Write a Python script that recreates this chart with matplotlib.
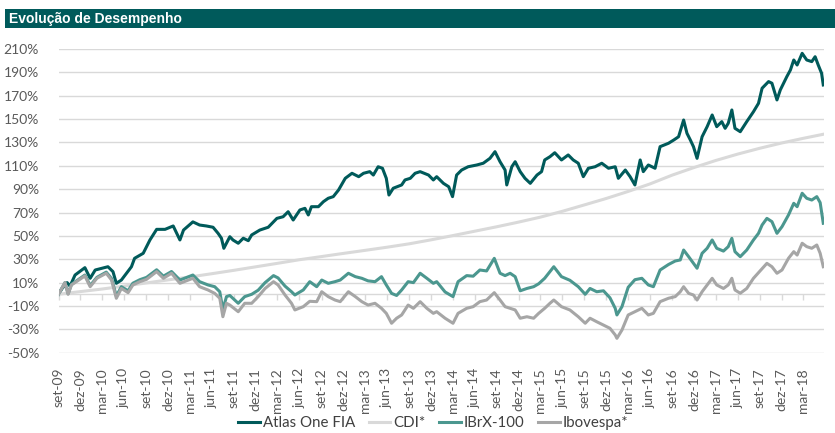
import matplotlib
matplotlib.use('Agg')
import matplotlib.pyplot as plt
from matplotlib.patches import Rectangle
import pandas as pd

# ---------------- data (cumulative return, %) ----------------
atlas_dates = [
    '2009-09-01', '2009-09-16', '2009-10-07', '2009-10-19', '2009-11-09', '2009-12-20',
    '2010-01-11', '2010-02-01', '2010-03-26', '2010-04-16', '2010-04-30', '2010-05-21',
    '2010-07-02', '2010-07-15', '2010-08-20', '2010-09-17', '2010-10-15', '2010-11-19',
    '2010-12-23', '2011-01-20', '2011-02-04', '2011-03-15', '2011-04-12', '2011-05-10',
    '2011-06-07', '2011-06-28', '2011-07-12', '2011-07-22', '2011-08-16', '2011-08-29',
    '2011-09-20', '2011-10-11', '2011-11-01', '2011-11-15', '2011-12-19', '2012-01-23',
    '2012-02-28', '2012-03-25', '2012-04-15', '2012-05-06', '2012-06-03', '2012-06-24',
    '2012-07-08', '2012-07-21', '2012-08-19', '2012-09-09', '2012-09-29', '2012-10-20',
    '2012-11-11', '2012-12-09', '2013-01-06', '2013-02-03', '2013-02-23', '2013-03-21',
    '2013-04-05', '2013-04-25', '2013-05-13', '2013-05-29', '2013-06-09', '2013-06-27',
    '2013-08-01', '2013-08-15', '2013-09-06', '2013-09-26', '2013-10-17', '2013-11-21',
    '2013-12-11', '2013-12-25', '2014-01-22', '2014-02-13', '2014-03-01', '2014-03-18',
    '2014-04-08', '2014-05-05', '2014-06-10', '2014-07-07', '2014-08-04', '2014-08-25',
    '2014-09-15', '2014-10-06', '2014-10-13', '2014-11-03', '2014-11-17', '2014-12-08',
    '2014-12-28', '2015-01-19', '2015-02-16', '2015-03-07', '2015-03-20', '2015-04-11',
    '2015-05-01', '2015-05-29', '2015-06-26', '2015-07-17', '2015-08-07', '2015-08-28',
    '2015-09-18', '2015-10-16', '2015-11-13', '2015-12-11', '2016-01-08', '2016-01-21',
    '2016-02-19', '2016-03-10', '2016-03-30', '2016-04-21', '2016-05-04', '2016-05-25',
    '2016-06-22', '2016-07-13', '2016-08-17', '2016-09-08', '2016-09-28', '2016-10-19',
    '2016-11-02', '2016-11-16', '2016-11-29', '2016-12-14', '2017-01-04', '2017-01-25',
    '2017-02-15', '2017-03-06', '2017-03-27', '2017-04-10', '2017-04-23', '2017-05-08',
    '2017-05-21', '2017-06-12', '2017-07-09', '2017-08-06', '2017-08-27', '2017-09-11',
    '2017-10-08', '2017-10-22', '2017-11-12', '2017-11-26', '2017-12-23', '2018-01-07',
    '2018-01-21', '2018-02-04', '2018-02-25', '2018-03-16', '2018-04-06', '2018-04-20',
    '2018-05-03', '2018-05-17', '2018-05-24']
atlas_vals = [
    0, 5, 10, 7, 16.5, 22.8,
    13.7, 20.8, 23.6, 19.4, 9.4, 12.2,
    23.6, 30.8, 35.1, 46.5, 55.6, 55.6,
    58.5, 46.5, 55, 62, 59.3, 58.5,
    57.4, 52.2, 48, 39.4, 49.3, 46.5,
    43.7, 48, 45.9, 50.8, 55, 57.4,
    65, 66.4, 70.7, 63.6, 72.2, 73.6,
    67.9, 75, 75, 79.3, 82.2, 83.6,
    89.3, 99.3, 103.6, 100.7, 103.6, 105,
    102.1, 109.2, 107.9, 99.3, 85, 90.8,
    93.6, 97.9, 99.3, 103.6, 105, 102.1,
    97.9, 100.7, 95, 92.1, 83.6, 102.1,
    106.4, 109.2, 110.7, 112.2, 116.4, 122.1,
    113.5, 106.4, 93.6, 109.2, 113.5, 105,
    99.3, 95, 102.1, 105, 115, 117.8,
    121.2, 115, 119.3, 115, 112.2, 100.7,
    107.9, 109.2, 112.2, 107.9, 109.2, 99.3,
    106.4, 100.7, 93.6, 115, 105, 110.7,
    107.9, 126.4, 129.3, 132.1, 134.9, 149.2,
    137.8, 132.1, 126.4, 116.4, 134.9, 143.5,
    153.5, 143.5, 147.8, 142.1, 146.4, 157.8,
    142.1, 139.2, 147.8, 156.3, 163.5, 176.4,
    182.1, 180.7, 166.4, 175, 186.3, 192,
    200.6, 196.3, 206.3, 200.6, 199.2, 203.4,
    196.3, 189.2, 179.2]

index_dates = [
    '2009-09-01', '2009-09-28', '2009-10-11', '2009-10-25', '2009-11-29', '2009-12-20',
    '2010-01-11', '2010-02-08', '2010-03-19', '2010-04-10', '2010-04-30', '2010-05-21',
    '2010-06-18', '2010-07-08', '2010-08-06', '2010-09-03', '2010-10-15', '2010-11-12',
    '2010-12-16', '2011-01-20', '2011-03-15', '2011-04-12', '2011-05-17', '2011-06-14',
    '2011-07-05', '2011-07-18', '2011-08-02', '2011-08-16', '2011-09-20', '2011-10-17',
    '2011-11-15', '2011-12-12', '2012-01-10', '2012-02-14', '2012-03-04', '2012-04-02',
    '2012-04-29', '2012-05-13', '2012-06-17', '2012-07-14', '2012-08-12', '2012-09-02',
    '2012-09-29', '2012-10-27', '2012-11-18', '2012-12-22', '2013-01-20', '2013-02-16',
    '2013-03-14', '2013-04-12', '2013-05-09', '2013-05-29', '2013-06-20', '2013-07-11',
    '2013-08-01', '2013-08-28', '2013-09-19', '2013-10-17', '2013-11-14', '2013-12-11',
    '2013-12-25', '2014-01-29', '2014-03-03', '2014-03-24', '2014-04-29', '2014-05-26',
    '2014-06-23', '2014-07-21', '2014-08-22', '2014-09-15', '2014-10-06', '2014-10-27',
    '2014-11-17', '2014-12-08', '2015-01-05', '2015-02-02', '2015-02-23', '2015-03-20',
    '2015-04-11', '2015-04-27', '2015-05-29', '2015-07-03', '2015-08-07', '2015-09-05',
    '2015-09-25', '2015-10-23', '2015-11-20', '2015-12-17', '2016-01-08', '2016-01-15',
    '2016-02-05', '2016-03-02', '2016-03-30', '2016-04-28', '2016-05-25', '2016-06-15',
    '2016-07-13', '2016-08-17', '2016-09-14', '2016-10-05', '2016-10-19', '2016-11-09',
    '2016-11-29', '2016-12-14', '2017-01-04', '2017-01-25', '2017-02-15', '2017-03-06',
    '2017-04-03', '2017-04-23', '2017-05-08', '2017-05-21', '2017-06-12', '2017-07-09',
    '2017-08-06', '2017-08-27', '2017-09-11', '2017-10-01', '2017-10-22', '2017-11-12',
    '2017-12-03', '2017-12-30', '2018-01-21', '2018-02-04', '2018-02-25', '2018-03-16',
    '2018-04-06', '2018-04-27', '2018-05-11', '2018-05-24']
ibov_vals = [
    0, 10, 0, 8, 12.8, 15.7,
    6.5, 13.7, 18, 12.2, -3.4, 5,
    1.4, 8, 10.8, 12.8, 19.4, 13.7,
    18, 9.4, 13.7, 6.5, 3.7, 0.8,
    -3.4, -19.2, -7.7, -9.2, -14.9, -7.7,
    -7.7, -2, 5, 10.8, 8, -0.6,
    -7.7, -13.4, -10.6, -6, -6.3, 2.2,
    -2, -4.9, -6.3, 2.2, -2, -6.3,
    -9.2, -7.7, -12, -16.3, -24.8, -20.5,
    -17.7, -9.2, -12, -6.3, -12, -16.3,
    -14.9, -20.5, -24.8, -16.3, -12, -10.6,
    -6.3, -4.9, 1.4, -4.9, -10.6, -12,
    -13.4, -20.5, -19.2, -20.5, -16.3, -12,
    -7.7, -4.9, -10.6, -13.4, -19.2, -24.8,
    -20.5, -23.5, -26.3, -29.1, -34.8, -37.7,
    -30.6, -17.7, -14.9, -12, -17.7, -16.3,
    -6.3, -3.4, -2, 2.2, 6.5, 0.8,
    -0.6, -4.9, 2.2, 8, 13.7, 8,
    5, 8, 13.7, 3.7, 0.9, 5,
    13.7, 18.5, 22, 26.5, 23.6, 18,
    20.8, 30.8, 36.5, 33.6, 43.7, 40.8,
    39.4, 42.2, 35.1, 23.6]
ibrx_vals = [
    0, 10, 0.5, 8.5, 13.5, 16.5,
    7.5, 14.5, 19, 13.5, -1.5, 6.5,
    3, 9.5, 12.5, 14.5, 21, 15.5,
    19.5, 12.2, 16.5, 10.8, 8, 6.5,
    2.2, -13, -2, -1, -7.7, -2,
    0, 3.5, 10, 16, 14, 7,
    2.2, -0.6, 3.7, 10.8, 6.5, 12.2,
    9.4, 10.8, 12.2, 18, 15.1, 13.7,
    11.5, 10.8, 15.1, 8, 0.8, -1,
    3.7, 10.8, 10, 18, 13.7, 9.4,
    10.8, 2, -2, 10.8, 16, 15.5,
    20.8, 20, 30.8, 18, 16, 18,
    15.1, 3, 5, 6.5, 9, 13.7,
    19.4, 23.6, 15.1, 12, 6.5, 0,
    5, 2.2, 3, -3, -12, -17.7,
    -10.6, 6, 12.5, 13.7, 8, 6.5,
    20.8, 25.5, 28.5, 29.4, 37.9, 32.2,
    26.5, 22.3, 35.1, 39.4, 46.5, 39.4,
    37, 40.8, 47.9, 36.5, 32.2, 37.9,
    46.5, 52.2, 59.3, 65, 62.2, 52.2,
    57.9, 67.9, 77.9, 75, 86.5, 82.2,
    80.7, 83.6, 78.5, 60.8]

cdi_dates = [
    '2009-09-01', '2009-12-01', '2010-03-01', '2010-06-01', '2010-09-01', '2010-12-01',
    '2011-03-01', '2011-06-01', '2011-09-01', '2011-12-01', '2012-03-01', '2012-06-01',
    '2012-09-01', '2012-12-01', '2013-03-01', '2013-06-01', '2013-09-01', '2013-12-01',
    '2014-03-01', '2014-06-01', '2014-09-01', '2014-12-01', '2015-03-01', '2015-06-01',
    '2015-09-01', '2015-12-01', '2016-03-01', '2016-06-01', '2016-09-01', '2016-12-01',
    '2017-03-01', '2017-06-01', '2017-09-01', '2017-12-01', '2018-03-01', '2018-05-24']
cdi_vals = [
    0, 2.3, 4.5, 7.0, 9.7, 12.3,
    14.8, 17.6, 20.5, 23.5, 26.5, 29.6,
    32.3, 35, 37.6, 40.3, 43.2, 46.6,
    50.2, 54, 57.8, 61.8, 66, 71,
    76.5, 82, 88, 94.5, 102, 108.5,
    114.5, 120, 125, 129.5, 133.5, 137]

tick_labels = ['set-09', 'dez-09', 'mar-10', 'jun-10', 'set-10', 'dez-10', 'mar-11',
               'jun-11', 'set-11', 'dez-11', 'mar-12', 'jun-12', 'set-12', 'dez-12',
               'mar-13', 'jun-13', 'set-13', 'dez-13', 'mar-14', 'jun-14', 'set-14',
               'dez-14', 'mar-15', 'jun-15', 'set-15', 'dez-15', 'mar-16', 'jun-16',
               'set-16', 'dez-16', 'mar-17', 'jun-17', 'set-17', 'dez-17', 'mar-18']
series_names = ['Atlas One FIA', 'CDI*', 'IBrX-100', 'Ibovespa*']
title = 'Evolução de Desempenho'

# ---------------- styling ----------------
plt.rcParams['font.family'] = ['Lato', 'DejaVu Sans']
colors = ['#005a5a', '#d9d9d9', '#4b978f', '#a6a6a6']
txt_gray = '#595959'
grid_col = '#d9d9d9'

fig = plt.figure(figsize=(8.35, 4.33), dpi=100)
W, H = 835, 433
ax = fig.add_axes([58.5 / W, 1 - 352.7 / H, (824 - 58.5) / W, (352.7 - 49) / H])

# title bar
fig.patches.append(Rectangle((5 / W, 1 - 28 / H), 1 - 5 / W, 19 / H,
                             transform=fig.transFigure, facecolor='#005a5b',
                             edgecolor='none', zorder=0))
fig.text(9 / W, 1 - 18.5 / H, title, color='white', fontsize=10, fontweight='bold',
         family=['Liberation Sans', 'DejaVu Sans'], va='center', ha='left')

series = [
    (pd.to_datetime(atlas_dates), atlas_vals),
    (pd.to_datetime(cdi_dates), cdi_vals),
    (pd.to_datetime(index_dates), ibrx_vals),
    (pd.to_datetime(index_dates), ibov_vals),
]
handles = []
for i, ((d, v), name, c) in enumerate(zip(series, series_names, colors)):
    ln, = ax.plot(d, v, color=c, lw=2.2, label=name, zorder=3 + i,
                  solid_joinstyle='round')
    handles.append(ln)

ax.set_ylim(-50, 210)
ax.set_xlim(pd.Timestamp('2009-09-01'), pd.Timestamp('2018-05-27'))
yt = list(range(-50, 211, 20))
ax.set_yticks(yt)
ax.set_yticklabels([f'{v}%' for v in yt])
ax.yaxis.grid(True, color=grid_col, lw=1)
ax.set_axisbelow(True)
for s in ax.spines.values():
    s.set_visible(False)
ax.tick_params(axis='y', length=0, pad=14, labelsize=10, labelcolor=txt_gray)

tick_dates = pd.date_range('2009-09-01', '2018-03-01', freq='3MS')
ax.set_xticks(tick_dates)
ax.set_xticklabels(tick_labels, rotation=90)
ax.tick_params(axis='x', length=0, pad=11, labelsize=10, labelcolor=txt_gray)

# horizontal category axis at 0% with tick marks
sec = ax.secondary_xaxis(50 / 260)
sec.set_xticks(tick_dates)
sec.set_xticklabels([])
sec.tick_params(axis='x', direction='out', length=4, color=grid_col, width=1)
for k, s in sec.spines.items():
    s.set_visible(k == 'bottom')
sec.spines['bottom'].set_color(grid_col)
sec.spines['bottom'].set_linewidth(1)

fig.legend(handles=handles, loc='center', bbox_to_anchor=(0.519, 1 - 423 / H),
           ncol=4, frameon=False, fontsize=10.8, handlelength=1.45,
           handletextpad=0.2, columnspacing=0.9, labelcolor='#404040')

fig.savefig('out.png', dpi=100, facecolor='white')
